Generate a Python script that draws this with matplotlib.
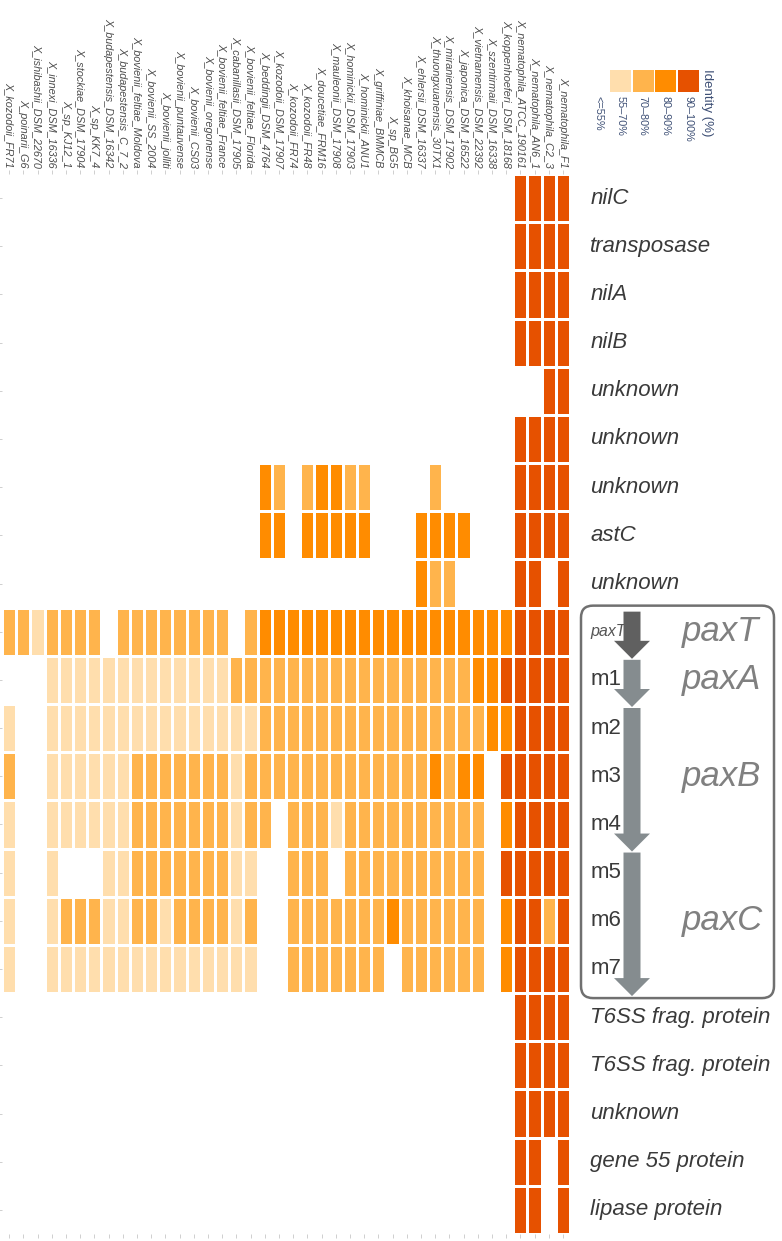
import numpy as np
import matplotlib
matplotlib.use('Agg')
import matplotlib.pyplot as plt
import matplotlib.transforms as mtransforms
from matplotlib.colors import ListedColormap, BoundaryNorm
from matplotlib.patches import FancyBboxPatch, FancyArrow, Rectangle

plt.rcParams['font.family'] = ['Liberation Sans', 'DejaVu Sans']

# strains (columns, left to right)
strains = ['X_kozodoii_FR71', 'X_poinarii_G6', 'X_ishibashii_DSM_22670', 'X_innexi_DSM_16336',
           'X_sp_KJ12_1', 'X_stockiae_DSM_17904', 'X_sp_KK7_4', 'X_budapestensis_DSM_16342',
           'X_budapestensis_C_7_2', 'X_bovienii_feltiae_Moldova', 'X_bovienii_SS_2004',
           'X_bovienii_jolliti', 'X_bovienii_puntauvense', 'X_bovienii_CS03',
           'X_bovienii_oregonense', 'X_bovienii_feltiae_France', 'X_cabanillasii_DSM_17905',
           'X_bovienii_feltiae_Florida', 'X_beddingii_DSM_4764', 'X_kozodoii_DSM_17907',
           'X_kozodoii_FR74', 'X_kozodoii_FR48', 'X_doucetiae_FRM16', 'X_mauleonii_DSM_17908',
           'X_hominickii_DSM_17903', 'X_hominickii_ANU1', 'X_griffiniae_BMMCB', 'X_sp_BG5',
           'X_khoisanae_MCB', 'X_ehlersii_DSM_16337', 'X_thuongxuanensis_30TX1',
           'X_miraniensis_DSM_17902', 'X_japonica_DSM_16522', 'X_vietnamensis_DSM_22392',
           'X_szentirmaii_DSM_16338', 'X_koppenhoeferi_DSM_18168', 'X_nematophila_ATCC_190161',
           'X_nematophila_AN6_1', 'X_nematophila_C2_3', 'X_nematophila_F1']

# genes (rows, top to bottom)
genes = ['nilC', 'transposase', 'nilA', 'nilB', 'unknown', 'unknown', 'unknown', 'astC',
         'unknown', 'paxT', 'm1', 'm2', 'm3', 'm4', 'm5', 'm6', 'm7',
         'T6SS frag. protein', 'T6SS frag. protein', 'unknown', 'gene 55 protein',
         'lipase protein']
italic_genes = [True] * 10 + [False] * 7 + [True] * 5

# identity class per row, as runs of (class, number of strains), left to right
# 0 = no hit, 1 = 55-70%, 2 = 70-80%, 3 = 80-90%, 4 = 90-100%
identity_runs = [
    [(0, 36), (4, 4)],                                   # nilC
    [(0, 36), (4, 4)],                                   # transposase
    [(0, 36), (4, 4)],                                   # nilA
    [(0, 36), (4, 4)],                                   # nilB
    [(0, 38), (4, 2)],                                   # unknown
    [(0, 36), (4, 4)],                                   # unknown
    [(0, 18), (3, 1), (2, 1), (0, 1), (2, 1), (3, 2), (2, 2), (0, 4), (2, 1), (0, 5), (4, 4)],
    [(0, 18), (3, 2), (0, 1), (3, 5), (0, 3), (3, 4), (0, 3), (4, 4)],  # astC
    [(0, 29), (3, 1), (2, 2), (0, 4), (4, 2), (0, 1), (4, 1)],
    [(2, 2), (1, 1), (2, 4), (0, 1), (2, 8), (0, 1), (2, 1), (3, 18), (4, 4)],  # paxT
    [(0, 3), (1, 13), (2, 17), (3, 2), (4, 5)],          # m1
    [(1, 1), (0, 2), (1, 15), (2, 16), (3, 2), (4, 4)],  # m2
    [(2, 1), (0, 2), (1, 6), (2, 7), (1, 1), (2, 13), (3, 1), (2, 1), (3, 2), (0, 1), (4, 5)],
    [(1, 1), (0, 2), (1, 6), (2, 7), (1, 1), (2, 2), (0, 1), (2, 3), (1, 1), (2, 10), (0, 1),
     (3, 1), (4, 4)],
    [(1, 1), (0, 2), (1, 1), (0, 3), (1, 2), (2, 7), (1, 2), (0, 2), (2, 3), (0, 1), (2, 10),
     (0, 1), (4, 5)],
    [(1, 1), (0, 2), (1, 1), (2, 3), (1, 2), (2, 2), (1, 1), (2, 4), (1, 1), (2, 1), (0, 2),
     (2, 7), (3, 1), (2, 6), (0, 1), (3, 1), (4, 2), (2, 1), (4, 1)],
    [(1, 1), (0, 2), (1, 15), (0, 2), (2, 7), (0, 1), (2, 6), (0, 1), (3, 1), (4, 4)],  # m7
    [(0, 36), (4, 4)],
    [(0, 36), (4, 4)],
    [(0, 36), (4, 4)],
    [(0, 36), (4, 2), (0, 1), (4, 1)],
    [(0, 36), (4, 2), (0, 1), (4, 1)],
]

bin_labels = ['<=55%', '55\u201370%', '70\u201380%', '80\u201390%', '90\u2013100%']
bin_colors = ['#FFFFFF', '#FFDEAD', '#FFB44C', '#FF8C00', '#E65100']

# pax operon annotation: name, first row, last row (exclusive), colour
pax_groups = [('paxT', 9, 10, '#606060'), ('paxA', 10, 11, '#858c8f'),
              ('paxB', 11, 14, '#858c8f'), ('paxC', 14, 17, '#858c8f')]

codes = np.array([[c for c, n in runs for _ in range(n)] for runs in identity_runs], dtype=float)
assert codes.shape == (len(genes), len(strains))
data = np.ma.masked_equal(codes, 0)

W, H = 782, 1241
HM_L, HM_R, HM_T, HM_B = 2, 570, 174, 1234

fig = plt.figure(figsize=(W / 100, H / 100), dpi=100)
ax = fig.add_axes([HM_L / W, 1 - HM_B / H, (HM_R - HM_L) / W, (HM_B - HM_T) / H])

cmap = ListedColormap(bin_colors[1:])
norm = BoundaryNorm([0.5, 1.5, 2.5, 3.5, 4.5], cmap.N)
ax.pcolormesh(np.arange(len(strains) + 1), np.arange(len(genes) + 1), data,
              cmap=cmap, norm=norm, edgecolors='white', linewidth=0.8)
ax.set_xlim(0, len(strains))
ax.set_ylim(len(genes), 0)
for s in ax.spines.values():
    s.set_visible(False)

ax.set_xticks(np.arange(len(strains)) + 0.5)
ax.set_xticklabels(strains, rotation=-90, fontsize=7.8, fontstyle='italic', color='#4d4d4d')
ax.tick_params(axis='x', top=True, labeltop=True, bottom=True, labelbottom=False,
               length=3, width=0.6, color='#c8c8c8', pad=1.5)
ax.set_yticks(np.arange(len(genes)) + 0.5)
ax.set_yticklabels([])
ax.tick_params(axis='y', left=True, length=3, width=0.6, color='#c8c8c8')

# gene labels on the right
trans = mtransforms.blended_transform_factory(ax.transAxes, ax.transData)
for i, (g, it) in enumerate(zip(genes, italic_genes)):
    if g == 'paxT':
        ax.text(1.036, i + 0.5, g, transform=trans, fontsize=11.5, style='italic',
                color='#555555', va='center', ha='left')
    else:
        ax.text(1.036, i + 0.5, g, transform=trans, fontsize=16,
                style='italic' if it else 'normal', color='#3a3a3a', va='center', ha='left')

# overlay in pixel coordinates for the box, arrows and legend
ov = fig.add_axes([0, 0, 1, 1], zorder=5)
ov.set_xlim(0, W)
ov.set_ylim(H, 0)
ov.axis('off')
ov.patch.set_alpha(0)

row_h = (HM_B - HM_T) / len(genes)


def row_px(r):
    return HM_T + r * row_h


box_top = row_px(9) - 2
box_bot = row_px(17) + 5
ov.add_patch(FancyBboxPatch((581, box_top), 193, box_bot - box_top,
                            boxstyle='round,pad=0,rounding_size=12', fill=False,
                            edgecolor='#707070', linewidth=1.8))

for name, r0, r1, col in pax_groups:
    y0 = row_px(r0) + 4
    y1 = row_px(r1) + 3
    ov.add_patch(FancyArrow(632, y0, 0, y1 - y0, width=17, head_width=36, head_length=18,
                            length_includes_head=True, color=col, linewidth=0))
    ov.text(682, (row_px(r0) + row_px(r1)) / 2, name, fontsize=25, style='italic',
            color='#808080', va='center', ha='left')

# legend
sw_x0, sw_w, sw_step, sw_y0, sw_h = 587.5, 21, 22.5, 70, 22
for k, (lab, col) in enumerate(zip(bin_labels, bin_colors)):
    x = sw_x0 + k * sw_step
    ov.add_patch(Rectangle((x, sw_y0), sw_w, sw_h, facecolor=col, edgecolor='none'))
    ov.text(x + sw_w / 2, sw_y0 + sw_h + 4, lab, rotation=-90, fontsize=7.8,
            color='#3d4f75', ha='center', va='top')
ov.text(701, sw_y0 - 1, 'Identity (%)', rotation=-90, fontsize=9.5, color='#3d4f75',
        ha='left', va='top')

fig.savefig('out.png', dpi=100)
